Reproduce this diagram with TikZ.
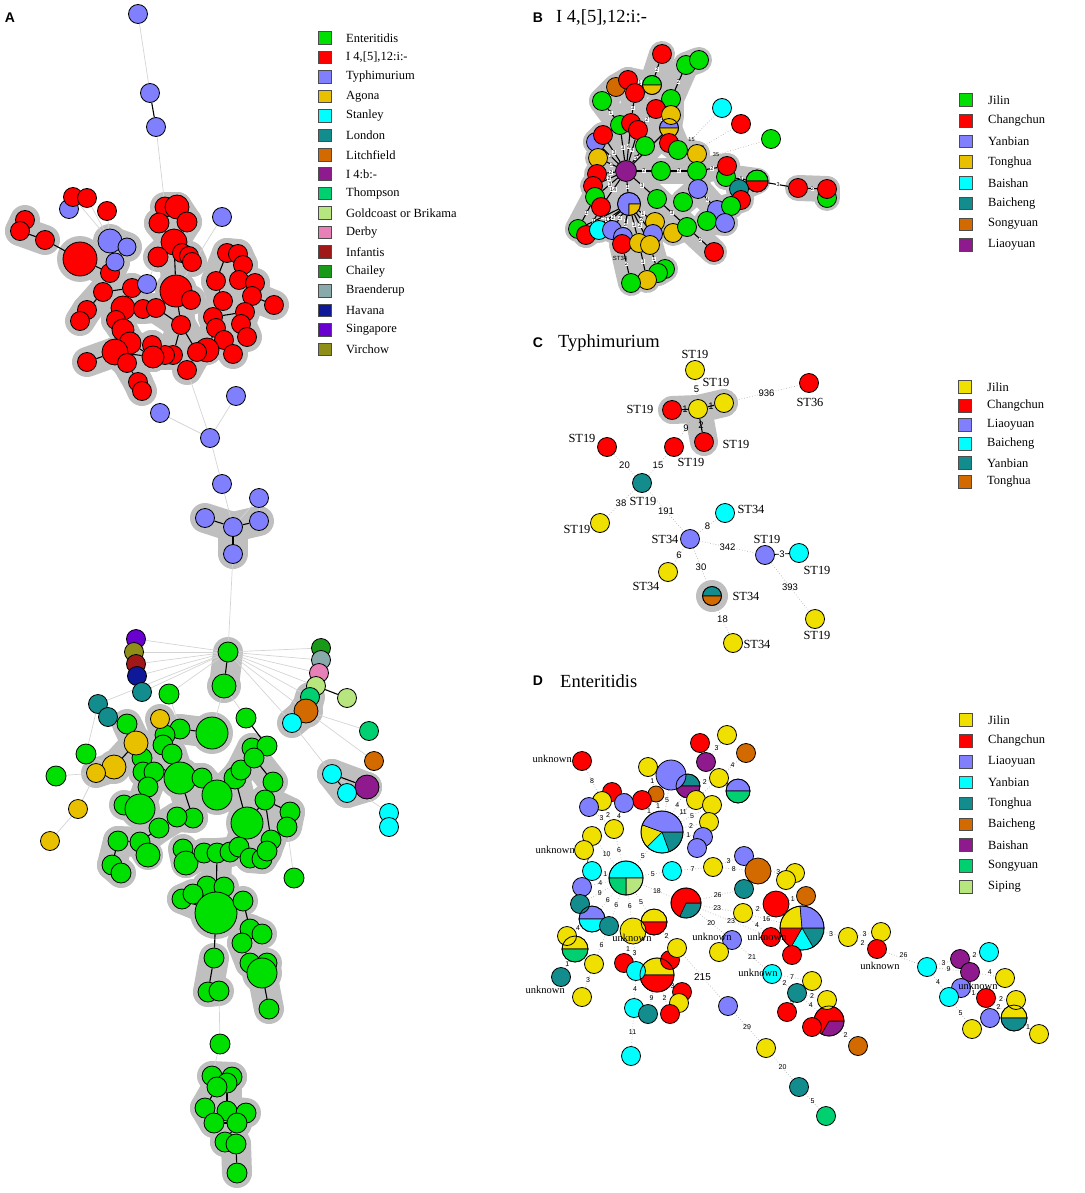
\documentclass[tikz,border=0pt]{standalone}
\usepackage{fontspec}
\setmainfont{Liberation Serif}
\newfontfamily\panelfont{Liberation Sans}
\newfontfamily\numfont{Liberation Sans}
\usetikzlibrary{positioning}

\definecolor{cGreen}{HTML}{00E000}
\definecolor{cRed}{HTML}{FF0000}
\definecolor{cLav}{HTML}{8080FF}
\definecolor{cGold}{HTML}{E8C000}
\definecolor{cYel}{HTML}{F0E000}
\definecolor{cCyan}{HTML}{00FFFF}
\definecolor{cTeal}{HTML}{128C8C}
\definecolor{cOrange}{HTML}{D26A00}
\definecolor{cPurple}{HTML}{8E1A8E}
\definecolor{cThom}{HTML}{00D070}
\definecolor{cGoldc}{HTML}{B8E67E}
\definecolor{cDerby}{HTML}{E880B8}
\definecolor{cInf}{HTML}{A01818}
\definecolor{cChai}{HTML}{189A18}
\definecolor{cBrae}{HTML}{88AAAA}
\definecolor{cHav}{HTML}{10189A}
\definecolor{cSing}{HTML}{6A00D0}
\definecolor{cVir}{HTML}{8E8E18}

\pgfdeclarelayer{halo}
\pgfdeclarelayer{edge}
\pgfdeclarelayer{pie}
\pgfsetlayers{halo,edge,pie,main}

% link with grey cluster shadow underneath
\newcommand{\hlink}[3][]{%
  \begin{pgfonlayer}{halo}\draw[halo] (#2.center) -- (#3.center);\end{pgfonlayer}%
  \begin{pgfonlayer}{edge}\draw[link] (#2) -- node[elab]{#1} (#3);\end{pgfonlayer}}
% pie sector: node, radius, start, end, colour
\newcommand{\slice}[5]{%
  \begin{pgfonlayer}{pie}\fill[#5, draw=black, line width=0.6pt] (#1.center) -- ++(#3:#2) arc[start angle=#3, end angle=#4, radius=#2] -- cycle;\end{pgfonlayer}}

\begin{document}
\begin{tikzpicture}[x=1pt, y=-1pt,
    st/.style={circle, draw=black, line width=0.8pt, inner sep=0pt, minimum size=#1},
    halo/.style={draw=black!25, line width=30pt, line cap=round, line join=round},
    halofill/.style={fill=black!25},
    link/.style={draw=black, line width=1.1pt},
    faint/.style={draw=black!17, line width=0.7pt},
    dlink/.style={draw=black!30, line width=0.7pt, dotted},
    elab/.style={inner sep=0.5pt, font=\numfont\fontsize{6}{7}\selectfont},
    key/.style={draw=black!70, line width=0.8pt, minimum size=12.5pt, inner sep=0pt},
    keytext/.style={anchor=west, inner sep=0pt, font=\fontsize{12.5}{14}\selectfont},
    panel/.style={font=\panelfont\bfseries\fontsize{14}{14}\selectfont, inner sep=0pt},
    title/.style={anchor=west, inner sep=0pt, font=\fontsize{18.5}{20}\selectfont},
    stlab/.style={inner sep=0pt, font=\fontsize{12.4}{13}\selectfont},
    unk/.style={inner sep=0pt, font=\fontsize{10.5}{12}\selectfont}
]
\useasboundingbox (0,0) rectangle (1084,1193);

% ================= A : all serovars =================
\node[panel] (labA) at (10,18) {A};

% Typhimurium
\foreach \n/\x/\y/\d in {t1/138/14/19, t2/150/93/19, t3/156/127/19, t4/69/209/19,
    t9/222/217/19, t10/236/396/19, t11/160/413/19, t12/210/438/19, t13/222/484/19,
    t16/259/498/19, t14/205/518/19, t15/233/527/19, t17/259/521/19, t18/233/554/19}
  \node[st=\d, fill=cLav] (\n) at (\x,\y) {};

% I 4,[5],12:i:-
\foreach \n/\x/\y/\d in {r1/73/197/19, r2/87/198/19, r3/107/211/19, r4/25/220/19, r5/20/231/19,
    r6/45/240/19, r7/80/259/34, r9/165/207/20, r10/177/207/24, r8/159/223/20, r11/187/222/20,
    r12/174/242/26, r13/158/257/20, r14/182/253/19, r15/189/256/19, r16/192/262/19,
    r17/176/291/32, r18/191/300/19, r21/110/273/19, r19/103/292/19, r20/132/288/19,
    r22/227/253/19, r23/238/254/19, r24/243/265/19, r25/216/281/19, r26/239/280/19,
    r27/255/283/19, r28/223/301/19, r29/252/296/19, r30/274/305/19, r31/87/310/19,
    r32/80/321/19, r33/123/308/24, r34/143/309/19, r35/156/308/19, r36/116/320/19,
    r37/123/330/22, r38/130/343/22, r39/181/325/19, r40/213/317/19, r41/216/328/19,
    r42/245/312/19, r43/241/324/19, r44/247/337/19, r45/224/340/19, r46/233/354/19,
    r47/207/350/24, r48/197/352/19, r49/187/370/19, r50/173/355/19, r51/165/355/19,
    r52/152/345/19, r53/153/357/22, r54/115/352/26, r55/87/362/19, r56/127/363/19,
    r57/138/382/19, r58/142/391/19}
  \node[st=\d, fill=cRed] (\n) at (\x,\y) {};

\foreach \n/\x/\y/\d in {t5/110/241/24, t6/127/247/18, t7/115/262/18, t8/147/284/19}
  \node[st=\d, fill=cLav] (\n) at (\x,\y) {};

% Enteritidis
\foreach \n/\x/\y/\d in {g1/228/652/20, g2/224/686/24, g3/169/694/20, g4/246/718/20, g5/212/733/32,
    g6/127/724/20, g7/86/754/20, g8/56/776/20, g9/180/729/20, g10/165/735/20, g11/163/745/20,
    g12/172/754/20, g13/180/778/32, g14/202/778/20, g16/235/778/22, g17/241/770/20,
    g18/252/748/20, g19/267/746/20, g20/254/758/20, g21/273/782/20, g15/217/795/30,
    g22/142/758/20, g23/143/772/20, g24/154/772/20, g25/148/787/20, g27/124/805/20,
    g26/140/809/30, g29/265/800/20, g30/290/812/20, g31/287/827/20, g28/247/823/32,
    g32/193/818/20, g33/177/817/20, g34/159/828/20, g35/118/841/20, g36/140/842/20,
    g37/148/855/24, g38/112/865/20, g39/121/873/20, g40/183/849/20, g41/186/863/24,
    g42/204/853/20, g43/217/853/20, g44/230/852/20, g45/239/847/20, g46/250/858/20,
    g47/262/859/20, g49/271/840/20, g48/267/851/20, g50/294/878/20, g51/207/886/20,
    g52/224/887/20, g53/182/899/20, g54/193/894/20, g55/216/913/42, g56/243/901/20,
    g57/250/929/20, g58/262/934/20, g59/242/943/20, g60/250/963/20, g62/267/963/20,
    g61/262/973/30, g63/269/1009/20, g64/214/958/20, g65/208/992/20, g66/219/991/20,
    g67/220/1044/20, g68/212/1076/20, g69/232/1077/20, g70/227/1083/20, g71/217/1087/20,
    g72/205/1108/20, g73/227/1111/20, g74/246/1113/20, g75/214/1123/20, g76/237/1123/20,
    g77/225/1142/20, g78/236/1144/20, g79/237/1173/20}
  \node[st=\d, fill=cGreen] (\n) at (\x,\y) {};

% other serovars
\foreach \n/\x/\y/\d/\c in {sg/136/639/19/cSing, vi/134/652/19/cVir, inf/136/664/19/cInf,
    hav/137/676/19/cHav, lon1/142/692/19/cTeal, lon2/98/704/19/cTeal, lon3/108/717/19/cTeal,
    cha/321/648/19/cChai, bra/321/660/19/cBrae, der/319/673/19/cDerby, gol1/316/686/19/cGoldc,
    tho1/310/697/19/cThom, lit1/306/711/24/cOrange, sta1/292/723/19/cCyan,
    gol2/347/698/19/cGoldc, tho2/369/731/19/cThom, lit2/374/761/19/cOrange,
    sta2/332/774/19/cCyan, ib/367/787/24/cPurple, sta3/347/793/19/cCyan,
    sta4/389/813/19/cCyan, sta5/389/827/19/cCyan,
    ag1/160/719/19/cGold, ag2/136/743/24/cGold, ag3/114/767/24/cGold, ag4/96/773/19/cGold,
    ag5/78/809/19/cGold, ag6/50/841/19/cGold}
  \node[st=\d, fill=\c] (\n) at (\x,\y) {};

\begin{pgfonlayer}{halo}
  \foreach \n/\r in {r7/23, r17/21, r12/18, g2/17, g5/21, g13/21, g15/20, g26/20, g28/21,
      g55/26, g61/20, ag2/17, ag3/17, lit1/17, t5/17}
    \fill[halofill] (\n.center) circle (\r);
\end{pgfonlayer}

\foreach \a/\b in {r4/r5, r5/r6, r7/r21, r21/t7, t7/t5, t5/t6,
    r9/r10, r8/r10, r10/r11, r8/r12, r11/r12, r12/r13, r12/r14, r14/r15, r15/r16, r12/r17, r17/r18,
    r22/r23, r23/r24, r22/r25, r24/r26, r26/r27, r25/r28, r27/r29, r29/r30, r28/r40, r40/r42,
    r42/r43, r43/r44, r40/r41, r41/r45, r45/r46, r41/r47,
    r17/r39, r39/r35, r35/r34, r34/r33, r33/r20, r20/r19, r19/r31, r31/r32, r33/r36, r36/r37,
    r37/r38, r38/r53, r53/r52, r52/r51, r51/r50, r50/r39, r39/r48, r48/r47, r48/r49, r53/r54,
    r54/r55, r54/r56, r56/r57, r57/r58,
    t14/t15, t15/t17, t15/t18, g1/g2,
    g9/g10, g10/g11, g11/g12, g12/g13, g9/g5, g13/g14, g14/g15, g15/g16, g16/g17, g17/g18,
    g18/g20, g20/g21, g13/g22, g22/g23, g23/g24, g24/g25, g25/g26, g26/g27, ag1/g10, ag2/g6,
    ag2/ag3, ag3/ag4, ag2/g22, g16/g28, g28/g29, g29/g30, g30/g31, g28/g45, g13/g32, g32/g33,
    g33/g34, g34/g36, g36/g35, g36/g37, g35/g38, g38/g39, g40/g41, g41/g42, g42/g43, g43/g44,
    g44/g45, g45/g46, g46/g47, g47/g48, g48/g49, g49/g29, g43/g55, g55/g51, g55/g52, g55/g53,
    g53/g54, g55/g56, g57/g58, g57/g59, g59/g60, g60/g61, g61/g62, g61/g63, g64/g65, g65/g66,
    g68/g69, g69/g70, g70/g71, g71/g72, g70/g73, g73/g74, g72/g75, g75/g76, g76/g77, g77/g78,
    g78/g79, lit1/sta1, lit1/tho1, sta2/ib, sta2/sta3, ib/sta3}
  {\hlink{\a}{\b}}

\begin{pgfonlayer}{edge}
  \foreach \a/\b in {t1/t2, t3/r9, r1/t5, r2/t5, r3/t5, t8/r13, t9/r17, r49/t12, t12/t10,
      t12/t11, t12/t13, t13/t15, t16/t15, t16/t17, t18/g1,
      g1/sg, g1/vi, g1/inf, g1/hav, g1/lon1, g1/cha, g1/bra, g1/der, g1/gol1, g1/tho1, g1/lit1,
      g1/sta1, g1/g3, g1/lon2, g3/g9, g2/g5, g2/g4, lon2/g7, g7/ag3, g8/ag4, ag4/ag5, ag5/ag6,
      lit1/tho2, lit1/lit2, sta1/sta2, sta2/sta4, g31/g50, g66/g67, g67/g68}
    \draw[faint] (\a) -- (\b);
  \foreach \a/\b in {t2/t3, r1/r2, r6/r7, lon2/lon3, gol1/gol2, sta4/sta5, g4/g19,
      g55/g64, g56/g57}
    \draw[link] (\a) -- (\b);
\end{pgfonlayer}

\foreach \t/\c [count=\i] in {Enteritidis/cGreen, {I 4,[5],12:i:-}/cRed, Typhimurium/cLav,
    Agona/cGold, Stanley/cCyan, London/cTeal, Litchfield/cOrange, {I 4:b:-}/cPurple,
    Thompson/cThom, Goldcoast or Brikama/cGoldc, Derby/cDerby, Infantis/cInf,
    Chailey/cChai, Braenderup/cBrae, Havana/cHav, Singapore/cSing, Virchow/cVir} {
  \node[key, fill=\c] (ka\i) at (325,{38+(\i-1)*19.45}) {};
  \node[keytext] (kat\i) at (346,{38+(\i-1)*19.45}) {\t};
}

% ================= B : I 4,[5],12:i:- =================
\begin{scope}[halo/.style={draw=black!25, line width=26pt, line cap=round, line join=round},
    elab/.style={inner sep=0.3pt, fill=white, font=\numfont\fontsize{5.5}{6}\selectfont}]
\node[panel] (labB) at (538,18) {B};
\node[title] (titB) at (556,18) {I 4,[5],12:i:-};

\foreach \n/\x/\y/\d/\c in {b1/662/54/19/cRed, b2/686/65/19/cGreen, b3/699/60/19/cGreen,
    b4/652/85/19/none, b5/616/87/19/cOrange, b6/628/80/19/cRed, b7/635/93/19/cRed,
    b8/602/101/19/cGreen, b9/671/99/19/cGreen, b10/656/109/19/cRed, b11/671/115/19/cGold,
    b12/669/128/19/none, b13/722/108/19/cCyan, b14/741/124/19/cRed, b15/771/139/19/cGreen,
    b16/620/125/19/cGreen, b17/631/123/19/cRed, b18/638/130/19/cRed, b19/596/142/19/cLav,
    b20/603/135/19/cRed, b21/669/143/19/cRed, b22/678/150/19/cGreen, b23/645/146/19/cGreen,
    b24/598/158/19/cGold, b25/697/154/19/cGold, b26/626/171/21/cPurple, b27/661/171/19/cGreen,
    b28/697/171/19/cGreen, b29/597/174/19/cRed, b30/593/186/19/cRed, b31/595/197/19/cGreen,
    b32/601/207/19/cRed, b34/726/177/19/cGreen, b33/727/166/19/cRed, b35/757/181/22/none,
    b36/739/189/19/cTeal, b37/741/200/19/cRed, b38/698/189/19/cLav, b39/657/199/19/cGreen,
    b40/629/204/23/none, b41/683/202/19/cGreen, b42/717/210/19/cLav, b43/731/206/19/cGreen,
    b45/707/221/19/cGreen, b44/725/223/19/cLav, b46/798/188/19/cRed, b47/827/198/19/cGreen,
    b48/827/189/19/cRed, b49/578/229/19/cGreen, b50/586/235/19/cRed, b51/599/230/19/cCyan,
    b52/612/230/19/cLav, b53/623/237/19/cLav, b54/622/244/19/cRed, b55/655/222/19/cGold,
    b56/653/234/19/cLav, b58/639/243/19/cGold, b57/650/245/19/cGold, b59/673/233/19/cGold,
    b60/687/227/19/cGreen, b61/714/252/19/cRed, b62/665/269/19/cGreen, b63/658/273/19/cGreen,
    b64/647/280/19/cGold, b65/631/283/19/cGreen}
  \node[st=\d, fill=\c] (\n) at (\x,\y) {};

\slice{b4}{9.5}{180}{360}{cGreen}\slice{b4}{9.5}{0}{180}{cGold}
\slice{b12}{9.5}{180}{360}{cLav}\slice{b12}{9.5}{0}{180}{cGold}
\slice{b35}{11}{180}{360}{cGreen}\slice{b35}{11}{0}{180}{cRed}
\slice{b40}{11.5}{90}{360}{cLav}\slice{b40}{11.5}{0}{90}{cGold}

\foreach \a/\b/\l in {b1/b4/2, b4/b6/1, b5/b6/1, b6/b7/1, b5/b8/2, b7/b17/3, b8/b16/1,
    b16/b17/1, b17/b18/1, b2/b3/1, b2/b9/2, b9/b11/4, b11/b12/1, b10/b12/7, b10/b18/2,
    b12/b22/3, b21/b22/1, b19/b20/1, b20/b26/3, b16/b26/3, b17/b26/4, b18/b26/4, b23/b26/5,
    b19/b26/3, b24/b26/3, b29/b26/2, b30/b26/2, b31/b26/3, b32/b26/14, b12/b26/3, b26/b27/2,
    b27/b28/2, b28/b25/1, b22/b25/7, b28/b33/2, b33/b34/1, b34/b35/4, b35/b36/1, b36/b37/3,
    b28/b38/2, b38/b42/4, b42/b43/5, b42/b44/2, b44/b45/1, b38/b41/2, b26/b39/3, b26/b40/1,
    b40/b49/2, b40/b50/1, b40/b51/2, b40/b52/2, b40/b53/1, b40/b54/3, b40/b55/1, b40/b56/2,
    b40/b57/2, b40/b58/3, b39/b60/3, b60/b59/1, b60/b61/2, b54/b65/2, b58/b64/3, b57/b63/1,
    b63/b62/1, b31/b49/1, b32/b50/1, b46/b48/2, b48/b47/1}
  {\hlink[\l]{\a}{\b}}

\begin{pgfonlayer}{edge}
  \draw[link] (b35) -- node[elab]{3} (b46);
  \foreach \a/\b/\l in {b27/b13/15, b27/b14/22, b27/b15/35}
    \draw[dlink] (\a) -- node[elab, fill=none]{\l} (\b);
\end{pgfonlayer}
\node[inner sep=0pt, font=\numfont\fontsize{6}{7}\selectfont] (b54l) at (620,258) {ST34};

\foreach \t/\c [count=\i] in {Jilin/cGreen, Changchun/cRed, Yanbian/cLav, Tonghua/cGold,
    Baishan/cCyan, Baicheng/cTeal, Songyuan/cOrange, Liaoyuan/cPurple} {
  \node[key, fill=\c] (kb\i) at (966,{100+(\i-1)*20.7}) {};
  \node[keytext] (kbt\i) at (988,{100+(\i-1)*20.7}) {\t};
}
\end{scope}

% ================= C : Typhimurium =================
\begin{scope}[halo/.style={draw=black!25, line width=28pt, line cap=round, line join=round},
    elab/.style={inner sep=0.5pt, font=\numfont\fontsize{9.5}{10}\selectfont}]
\node[panel] (labC) at (538,343) {C};
\node[title] (titC) at (558,343) {Typhimurium};

\foreach \n/\x/\y/\c in {c1/695/370/cYel, c2/672/410/cRed, c3/698/409/cYel, c4/724/403/cYel,
    c5/704/442/cRed, c6/809/383/cRed, c7/674/447/cRed, c8/607/447/cRed, c9/642/483/cTeal,
    c10/600/523/cYel, c11/690/539/cLav, c12/725/513/cCyan, c13/765/555/cLav,
    c14/799/553/cCyan, c15/815/619/cYel, c16/668/572/cYel, c17/712/596/none, c18/733/643/cYel}
  \node[st=19, fill=\c] (\n) at (\x,\y) {};
\slice{c17}{9.5}{180}{360}{cTeal}\slice{c17}{9.5}{0}{180}{cOrange}
\begin{pgfonlayer}{halo}
  \fill[halofill] (c17.center) circle (16);
\end{pgfonlayer}

\foreach \a/\b/\l in {c2/c3/1, c3/c4/1, c3/c5/2} {\hlink[\l]{\a}{\b}}
\begin{pgfonlayer}{edge}
  \foreach \a/\b/\l in {c1/c3/5, c4/c6/936, c3/c7/9, c7/c9/15, c8/c9/20, c9/c10/38,
      c9/c11/191, c11/c12/8, c11/c13/342, c13/c15/393, c11/c16/6, c11/c17/30, c17/c18/18}
    \draw[dlink] (\a) -- node[elab]{\l} (\b);
  \draw[link, line width=0.8pt] (c13) -- node[elab, fill=white]{3} (c14);
\end{pgfonlayer}

\foreach \n/\x/\y/\t in {c1l/695/354/ST19, c3l/716/382/ST19, c2l/640/409/ST19,
    c5l/736/444/ST19, c6l/810/402/ST36, c8l/582/438/ST19, c7l/691/462/ST19,
    c9l/643/501/ST19, c10l/577/529/ST19, c11l/665/539/ST34, c12l/751/509/ST34,
    c13l/767/539/ST19, c14l/817/570/ST19, c15l/817/635/ST19, c16l/646/586/ST34,
    c17l/746/596/ST34, c18l/757/644/ST34}
  \node[stlab] (\n) at (\x,\y) {\t};

\foreach \t/\c [count=\i] in {Jilin/cYel, Changchun/cRed, Liaoyuan/cLav, Baicheng/cCyan,
    Yanbian/cTeal, Tonghua/cOrange} {
  \node[key, fill=\c] (kc\i) at (965,{387+(\i-1)*19}) {};
  \node[keytext] (kct\i) at (987,{387+(\i-1)*19}) {\t};
}
\end{scope}

% ================= D : Enteritidis =================
\begin{scope}[elab/.style={inner sep=0.5pt, font=\numfont\fontsize{7}{8}\selectfont}]
\node[panel] (labD) at (538,681) {D};
\node[title] (titD) at (560,681) {Enteritidis};

\foreach \n/\x/\y/\d/\c in {d1/582/761/19/cRed, d2/700/743/19/cRed, d3/727/735/19/cYel,
    d4/706/762/19/cPurple, d5/746/753/19/cOrange, d6/648/767/19/cYel, d7/671/775/30/cLav,
    d8/688/786/24/none, d9/719/778/19/cYel, d10/738/791/24/none, d11/656/794/16/cOrange,
    d12/642/800/19/cRed, d13/612/792/19/cRed, d14/602/801/19/cYel, d15/589/807/19/cLav,
    d16/624/803/19/cLav, d17/696/800/19/cYel, d18/712/805/19/cYel, d19/709/822/19/cYel,
    d20/703/837/19/cLav, d21/697/848/19/cLav, d22/662/832/42/none, d23/614/829/19/cYel,
    d24/592/836/19/cYel, d25/584/850/19/cYel, d26/592/871/19/cCyan, d27/626/878/34/none,
    d28/672/871/19/cCyan, d29/582/887/19/cLav, d30/580/904/19/cTeal, d31/592/919/26/none,
    d32/609/926/19/cTeal, d33/567/936/19/cYel, d34/575/949/26/none, d35/561/977/19/cTeal,
    d36/594/964/19/cYel, d37/582/997/19/cYel, d38/633/931/26/cYel, d39/654/922/26/none,
    d40/624/963/19/cRed, d41/636/971/19/cCyan, d43/670/960/19/cRed, d44/677/948/19/cYel,
    d42/657/975/34/none, d45/682/992/19/cRed, d46/679/1003/19/cYel, d47/670/1014/19/cRed,
    d48/634/1008/19/cCyan, d49/648/1014/19/cTeal, d50/631/1056/19/cCyan, d51/686/903/30/none,
    d52/713/867/19/cYel, d53/744/856/19/cLav, d54/758/871/26/cOrange, d55/795/873/19/cYel,
    d56/786/880/19/cYel, d57/744/889/19/cTeal, d58/776/904/26/cRed, d59/806/896/19/cOrange,
    d60/743/913/19/cYel, d61/802/928/44/none, d62/771/937/19/cRed, d63/792/955/19/cRed,
    d64/732/940/19/cLav, d65/719/952/19/cYel, d66/848/937/19/cYel, d67/881/932/19/cYel,
    d68/877/949/19/cRed, d69/772/974/19/cCyan, d70/812/981/19/cYel, d71/797/993/19/cTeal,
    d72/787/1012/19/cRed, d73/827/1000/19/cYel, d74/829/1021/30/none, d75/812/1027/19/cRed,
    d76/858/1046/19/cOrange, d77/728/1006/19/cLav, d78/766/1048/19/cYel, d79/799/1087/19/cTeal,
    d80/826/1116/19/cThom, d81/927/967/19/cCyan, d82/960/959/19/cPurple, d83/989/952/19/cCyan,
    d84/970/972/19/cPurple, d85/1005/978/19/cYel, d86/961/988/19/cLav, d87/986/998/19/cRed,
    d88/1016/1000/19/cYel, d89/1014/1018/26/none, d90/990/1018/19/cLav, d91/949/997/19/cCyan,
    d92/972/1029/19/cYel, d93/1039/1034/19/cYel}
  \node[st=\d, fill=\c] (\n) at (\x,\y) {};

\slice{d8}{12}{180}{360}{cTeal}\slice{d8}{12}{0}{180}{cPurple}
\slice{d10}{12}{180}{360}{cLav}\slice{d10}{12}{0}{180}{cThom}
\slice{d22}{21}{0}{70}{cTeal}\slice{d22}{21}{70}{135}{cCyan}
\slice{d22}{21}{135}{200}{cYel}\slice{d22}{21}{200}{360}{cLav}
\slice{d27}{17}{180}{360}{cCyan}\slice{d27}{17}{0}{90}{cGoldc}\slice{d27}{17}{90}{180}{cThom}
\slice{d31}{13}{180}{360}{cLav}\slice{d31}{13}{0}{180}{cCyan}
\slice{d34}{13}{180}{360}{cYel}\slice{d34}{13}{0}{180}{cThom}
\slice{d39}{13}{180}{360}{cYel}\slice{d39}{13}{0}{180}{cRed}
\slice{d42}{17}{180}{360}{cYel}\slice{d42}{17}{0}{180}{cRed}
\slice{d51}{15}{0}{115}{cTeal}\slice{d51}{15}{115}{360}{cRed}
\slice{d61}{22}{0}{60}{cTeal}\slice{d61}{22}{60}{120}{cCyan}\slice{d61}{22}{120}{180}{cRed}
\slice{d61}{22}{180}{265}{cYel}\slice{d61}{22}{265}{360}{cLav}
\slice{d74}{15}{0}{120}{cPurple}\slice{d74}{15}{120}{360}{cRed}
\slice{d89}{13}{180}{360}{cYel}\slice{d89}{13}{0}{180}{cTeal}

\begin{pgfonlayer}{edge}
  \foreach \a/\b/\l in {d1/d14/8, d15/d23/3, d14/d23/2, d16/d23/4, d13/d16/1, d13/d12/1,
      d12/d22/1, d11/d22/1, d6/d11/1, d7/d22/5, d8/d22/4, d9/d22/4, d17/d22/11, d18/d22/5,
      d19/d22/2, d20/d22/1, d2/d4/6, d4/d3/3, d5/d9/4, d9/d10/1, d8/d9/2, d23/d27/6,
      d24/d27/10, d26/d27/1, d25/d26/7, d29/d27/4, d30/d27/9, d31/d27/6, d32/d27/6,
      d38/d27/6, d39/d27/5, d22/d27/5, d28/d27/5, d51/d27/18, d31/d33/4, d33/d34/1,
      d34/d35/1, d36/d32/6, d36/d37/3, d38/d40/1, d38/d41/3, d42/d41/4, d42/d43/3, d44/d39/2,
      d42/d45/3, d45/d46/3, d47/d42/2, d48/d41/4, d49/d42/9, d48/d50/11, d77/d78/29,
      d78/d79/20, d79/d80/5, d28/d52/7, d52/d53/3, d53/d54/1, d52/d54/8, d54/d55/3,
      d54/d57/8, d51/d57/26, d51/d60/23, d51/d62/23, d51/d64/20, d64/d69/21, d64/d65/2,
      d60/d58/2, d60/d62/4, d60/d61/16, d58/d59/1, d61/d63/1, d61/d66/3,
      d66/d67/3, d66/d68/2, d81/d82/3, d81/d84/9, d81/d91/4, d91/d86/6,
      d82/d83/2, d86/d87/1, d87/d88/2, d87/d89/2, d89/d93/1, d87/d90/7,
      d91/d92/5, d69/d70/7, d69/d71/2, d71/d72/5, d71/d73/2, d71/d74/4, d74/d75/1,
      d73/d74/4, d74/d76/2}
    \draw[dlink] (\a) -- node[elab]{\l} (\b);
  \foreach \a/\b in {d61/d62, d86/d84}
    \draw[dlink] (\a) -- (\b);
  \draw[dlink] (d68) -- node[elab, pos=0.55, above=0.5pt]{26} (d81);
  \draw[dlink] (d84) -- node[elab, pos=0.65, above=0.5pt]{4} (d85);
  \draw[dlink] (d44) -- node[elab, font=\numfont\fontsize{10}{11}\selectfont]{215} (d77);
\end{pgfonlayer}

\node[unk, anchor=east] (d1u) at (572,759) {unknown};
\node[unk, anchor=east] (d25u) at (575,850) {unknown};
\node[unk, anchor=east] (d35u) at (565,990) {unknown};
\node[unk] (d38u) at (632,938) {unknown};
\node[unk] (d64u) at (712,937) {unknown};
\node[unk] (d62u) at (767,937) {unknown};
\node[unk] (d68u) at (880,966) {unknown};
\node[unk] (d69u) at (758,973) {unknown};
\node[unk] (d86u) at (978,986) {unknown};

\foreach \t/\c [count=\i] in {Jilin/cYel, Changchun/cRed, Liaoyuan/cLav, Yanbian/cCyan,
    Tonghua/cTeal, Baicheng/cOrange, Baishan/cPurple, Songyuan/cThom, Siping/cGoldc} {
  \node[key, fill=\c] (kd\i) at (966,{720+(\i-1)*20.85}) {};
  \node[keytext] (kdt\i) at (988,{720+(\i-1)*20.85}) {\t};
}
\end{scope}
\end{tikzpicture}
\end{document}
